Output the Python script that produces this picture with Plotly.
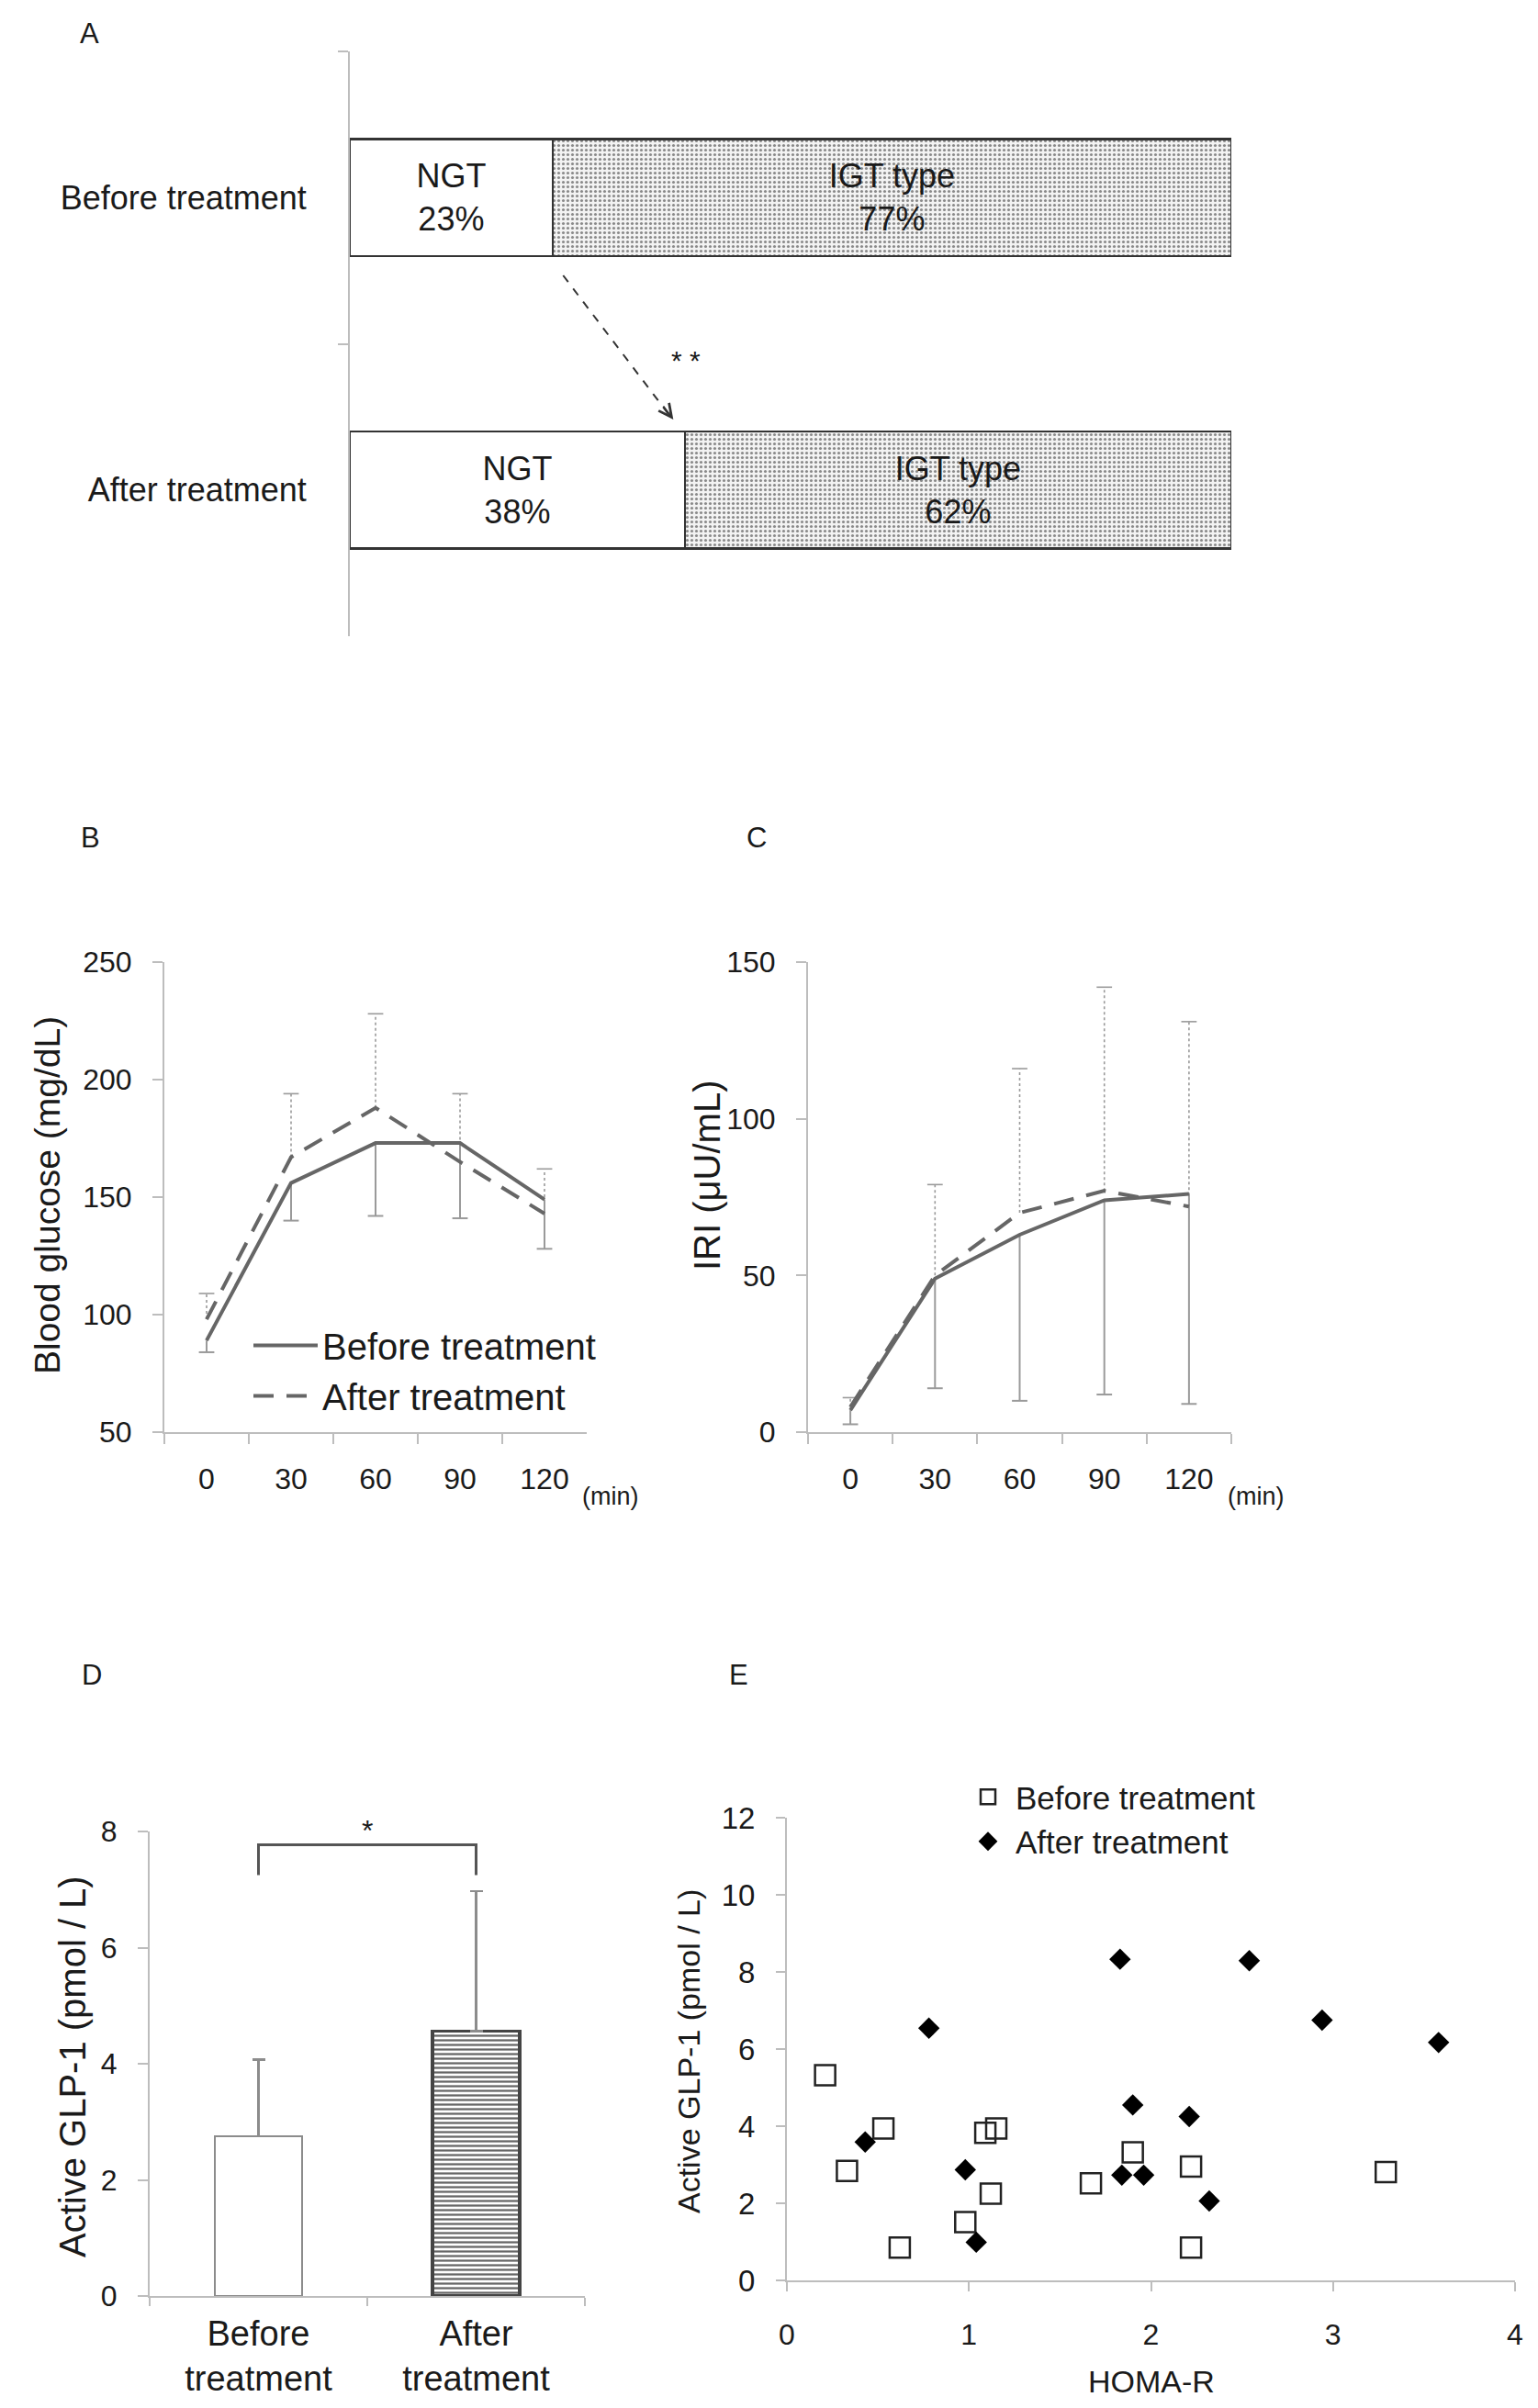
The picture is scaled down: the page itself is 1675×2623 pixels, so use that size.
import plotly.graph_objects as go

# ---- panel A: glucose tolerance type (%)
groups = ["Before treatment", "After treatment"]
ngt_pct = [23, 38]
igt_pct = [77, 62]

# ---- panels B / C: OGTT curves (mean, SD)
times = ["0", "30", "60", "90", "120"]
glu_before = [89, 156, 173, 173, 149]
glu_before_sd = [5, 16, 31, 32, 21]
glu_after = [98, 167, 188, 165, 143]
glu_after_sd = [11, 27, 40, 29, 19]

iri_before = [7, 49, 63, 74, 76]
iri_before_sd = [4.5, 35, 53, 62, 67]
iri_after = [8, 50, 70, 77, 72]
iri_after_sd = [3, 29, 46, 65, 59]

# ---- panel D: active GLP-1 (mean, SD)
glp_groups = ["Before<br>treatment", "After<br>treatment"]
glp_mean = [2.75, 4.56]
glp_sd = [1.32, 2.41]
bracket_y = [7.25, 7.77]

# ---- panel E: HOMA-R vs active GLP-1
homa_before = [0.21, 0.33, 0.53, 0.62, 0.98, 1.09, 1.15, 1.12, 1.67, 1.90, 2.22, 2.22, 3.29]
glp_before = [5.32, 2.84, 3.94, 0.85, 1.51, 3.83, 3.94, 2.25, 2.52, 3.32, 2.95, 0.85, 2.81]
homa_after = [0.43, 0.78, 0.98, 1.04, 1.83, 1.84, 1.90, 1.96, 2.21, 2.32, 2.54, 2.94, 3.58]
glp_after = [3.59, 6.54, 2.87, 0.99, 8.33, 2.73, 4.55, 2.73, 4.25, 2.06, 8.29, 6.75, 6.17]

W, H = 1675, 2623
FONT = "Liberation Sans, Arial, sans-serif"
AX = "#bdbdbd"
TXT = "#1a1a1a"
LINE = "#666666"


def px(x):
    return x / W


def py(y):
    return 1 - y / H


def stems(cats, vals, errs, sign):
    xs, ys = [], []
    for c, v, e in zip(cats, vals, errs):
        xs += [c, c, None]
        ys += [v, v + sign * e, None]
    return xs, ys


fig = go.Figure()

# ---------- A
fig.add_trace(go.Bar(
    y=groups, x=ngt_pct, orientation="h", width=0.4,
    marker=dict(color="white", line=dict(color="#333", width=2.5)),
    text=[f"NGT<br>{p}%" for p in ngt_pct], textposition="inside",
    insidetextanchor="middle", textangle=0,
    textfont=dict(size=36, color=TXT), showlegend=False,
    xaxis="x", yaxis="y"))
fig.add_trace(go.Bar(
    y=groups, x=igt_pct, orientation="h", width=0.4,
    marker=dict(color="#f3f3f3", line=dict(color="#333", width=2.5),
                pattern=dict(shape=".", fgcolor="#8a8a8a", bgcolor="#f3f3f3",
                             size=5, solidity=0.3)),
    text=[f"IGT type<br>{p}%" for p in igt_pct], textposition="inside",
    insidetextanchor="middle", textangle=0,
    textfont=dict(size=36, color=TXT), showlegend=False,
    xaxis="x", yaxis="y"))

# ---------- B and C
def curve_panel(xa, ya, before, before_sd, after, after_sd, legend):
    xs, ys = stems(times, after, after_sd, 1)
    fig.add_trace(go.Scatter(x=xs, y=ys, mode="lines", showlegend=False,
                             line=dict(color="#9a9a9a", width=1.6, dash="dot"),
                             xaxis=xa, yaxis=ya, hoverinfo="skip"))
    fig.add_trace(go.Scatter(x=times, y=[v + e for v, e in zip(after, after_sd)],
                             mode="markers", showlegend=False,
                             marker=dict(symbol="line-ew", size=12,
                                         line=dict(color="#9a9a9a", width=1.6)),
                             xaxis=xa, yaxis=ya, hoverinfo="skip"))
    xs, ys = stems(times, before, before_sd, -1)
    fig.add_trace(go.Scatter(x=xs, y=ys, mode="lines", showlegend=False,
                             line=dict(color="#9a9a9a", width=2),
                             xaxis=xa, yaxis=ya, hoverinfo="skip"))
    fig.add_trace(go.Scatter(x=times, y=[v - e for v, e in zip(before, before_sd)],
                             mode="markers", showlegend=False,
                             marker=dict(symbol="line-ew", size=12,
                                         line=dict(color="#9a9a9a", width=2)),
                             xaxis=xa, yaxis=ya, hoverinfo="skip"))
    fig.add_trace(go.Scatter(x=times, y=before, mode="lines", name="Before treatment",
                             line=dict(color=LINE, width=4),
                             showlegend=legend, legend="legend",
                             xaxis=xa, yaxis=ya))
    fig.add_trace(go.Scatter(x=times, y=after, mode="lines", name="After treatment",
                             line=dict(color=LINE, width=4, dash="22px,14px"),
                             showlegend=legend, legend="legend",
                             xaxis=xa, yaxis=ya))


curve_panel("x2", "y2", glu_before, glu_before_sd, glu_after, glu_after_sd, True)
curve_panel("x3", "y3", iri_before, iri_before_sd, iri_after, iri_after_sd, False)

# ---------- D
fig.add_trace(go.Bar(
    x=glp_groups[:1], y=glp_mean[:1], width=0.4,
    marker=dict(color="white", line=dict(color="#8c8c8c", width=2.5)),
    error_y=dict(type="data", array=glp_sd[:1], arrayminus=[0], symmetric=False,
                 color="#8c8c8c", thickness=2.5, width=7),
    showlegend=False, xaxis="x4", yaxis="y4"))
fig.add_trace(go.Bar(
    x=glp_groups[1:], y=glp_mean[1:], width=0.4,
    marker=dict(color="white", line=dict(color="#444", width=3.5),
                pattern=dict(shape="-", fgcolor="#666", bgcolor="white",
                             size=5, solidity=0.45)),
    error_y=dict(type="data", array=glp_sd[1:], arrayminus=[0], symmetric=False,
                 color="#8c8c8c", thickness=2.5, width=7),
    showlegend=False, xaxis="x4", yaxis="y4"))

# ---------- E
fig.add_trace(go.Scatter(
    x=homa_before, y=glp_before, mode="markers", name="Before treatment",
    marker=dict(symbol="square-open", size=22, color="#222",
                line=dict(width=2.5, color="#222")),
    legend="legend2", xaxis="x5", yaxis="y5"))
fig.add_trace(go.Scatter(
    x=homa_after, y=glp_after, mode="markers", name="After treatment",
    marker=dict(symbol="diamond", size=18, color="black"),
    legend="legend2", xaxis="x5", yaxis="y5"))

axis = dict(showline=True, linecolor=AX, linewidth=2, ticks="outside",
            tickcolor=AX, ticklen=11, tickwidth=2, showgrid=False,
            zeroline=False, tickfont=dict(size=32, color=TXT),
            ticklabelstandoff=16, automargin=False)

fig.update_layout(
    template="none",
    width=W, height=H, margin=dict(l=0, r=0, t=0, b=0, pad=0, autoexpand=False),
    paper_bgcolor="white", plot_bgcolor="white",
    font=dict(family=FONT, color=TXT),
    barmode="stack",
    # A
    xaxis=dict(domain=[px(373), px(1333)], range=[0, 100], visible=False,
               anchor="y", automargin=False),
    yaxis=dict(axis, domain=[py(685), py(48)], type="category",
               categoryarray=groups, range=[1.5, -0.5], tickson="boundaries",
               ticklen=11, tickfont=dict(size=36, color=TXT),
               ticklabelstandoff=38, anchor="x"),
    # B
    xaxis2=dict(axis, domain=[px(171), px(631)], type="category",
                categoryarray=times, range=[-0.5, 4.5], tickson="boundaries",
                ticklabelstandoff=22, anchor="y2"),
    yaxis2=dict(axis, domain=[py(1552), py(1040)], range=[50, 250], dtick=50,
                anchor="x2"),
    # C
    xaxis3=dict(axis, domain=[px(872), px(1333)], type="category",
                categoryarray=times, range=[-0.5, 4.5], tickson="boundaries",
                ticklabelstandoff=22, anchor="y3"),
    yaxis3=dict(axis, domain=[py(1552), py(1040)], range=[0, 150], dtick=50,
                anchor="x3"),
    # D
    xaxis4=dict(axis, domain=[px(155), px(629)], type="category",
                categoryarray=glp_groups, range=[-0.5, 1.5], tickson="boundaries",
                ticklen=9, tickfont=dict(size=38, color=TXT),
                ticklabelstandoff=6, anchor="y4"),
    yaxis4=dict(axis, domain=[py(2493), py(1987)], range=[0, 8], dtick=2,
                anchor="x4"),
    # E
    xaxis5=dict(axis, domain=[px(849), px(1642)], range=[0, 4], dtick=1,
                ticklen=10, ticklabelstandoff=20, anchor="y5"),
    yaxis5=dict(axis, domain=[py(2476), py(1972)], range=[0, 12], dtick=2,
                ticklen=10, tickfont=dict(size=33, color=TXT), anchor="x5"),
    legend=dict(x=px(263), y=py(1425), xanchor="left", yanchor="top",
                bgcolor="rgba(0,0,0,0)", font=dict(size=40, color=TXT),
                itemwidth=70, tracegroupgap=0, traceorder="normal"),
    legend2=dict(x=px(1038), y=py(1920), xanchor="left", yanchor="top",
                 bgcolor="rgba(0,0,0,0)", font=dict(size=35, color=TXT),
                 itemwidth=50, tracegroupgap=0, traceorder="normal"),
)

# dashed arrow and significance in A
fig.add_shape(type="line", xref="x", yref="paper", x0=24.2, x1=36.3,
              y0=py(292), y1=py(445), line=dict(color="#333", width=2, dash="dash"))
fig.add_annotation(xref="x", yref="paper", x=36.7, y=py(449), ax=-12, ay=-16,
                   showarrow=True, arrowhead=5, arrowsize=1.4, arrowwidth=2,
                   arrowcolor="#333", text="")
fig.add_annotation(xref="x", yref="paper", x=38.1, y=py(366), text="* *",
                   showarrow=False, font=dict(size=30, color=TXT))

# bracket in D
fig.add_shape(type="path", xref="x4", yref="y4",
              path=f"M 0,{bracket_y[0]} L 0,{bracket_y[1]} L 1,{bracket_y[1]} L 1,{bracket_y[0]}",
              line=dict(color="#555", width=3))
fig.add_annotation(xref="x4", yref="y4", x=0.5, y=bracket_y[1], yshift=16,
                   text="*", showarrow=False, font=dict(size=32, color=TXT))

# panel letters, axis titles, units
texts = [
    ("A", 89, 29, 31, 0), ("B", 90, 904, 31, 0), ("C", 816, 904, 31, 0),
    ("D", 92, 1816, 31, 0), ("E", 796, 1816, 31, 0),
    ("Blood glucose (mg/dL)", 43, 1294, 39, -90),
    ("IRI (\u03bcU/mL)", 762, 1273, 40, -90),
    ("Active GLP-1 (pmol / L)", 71, 2243, 40, -90),
    ("Active GLP-1 (pmol / L)", 742, 2227, 34, -90),
    ("HOMA-R", 1246, 2586, 34, 0),
    ("(min)", 657, 1622, 27, 0), ("(min)", 1360, 1622, 27, 0),
]
for t, x, y, s, a in texts:
    fig.add_annotation(xref="paper", yref="paper", x=px(x), y=py(y), text=t,
                       showarrow=False, textangle=a, xanchor="center",
                       yanchor="middle", font=dict(size=s, color=TXT))

fig.write_html("out.html")
